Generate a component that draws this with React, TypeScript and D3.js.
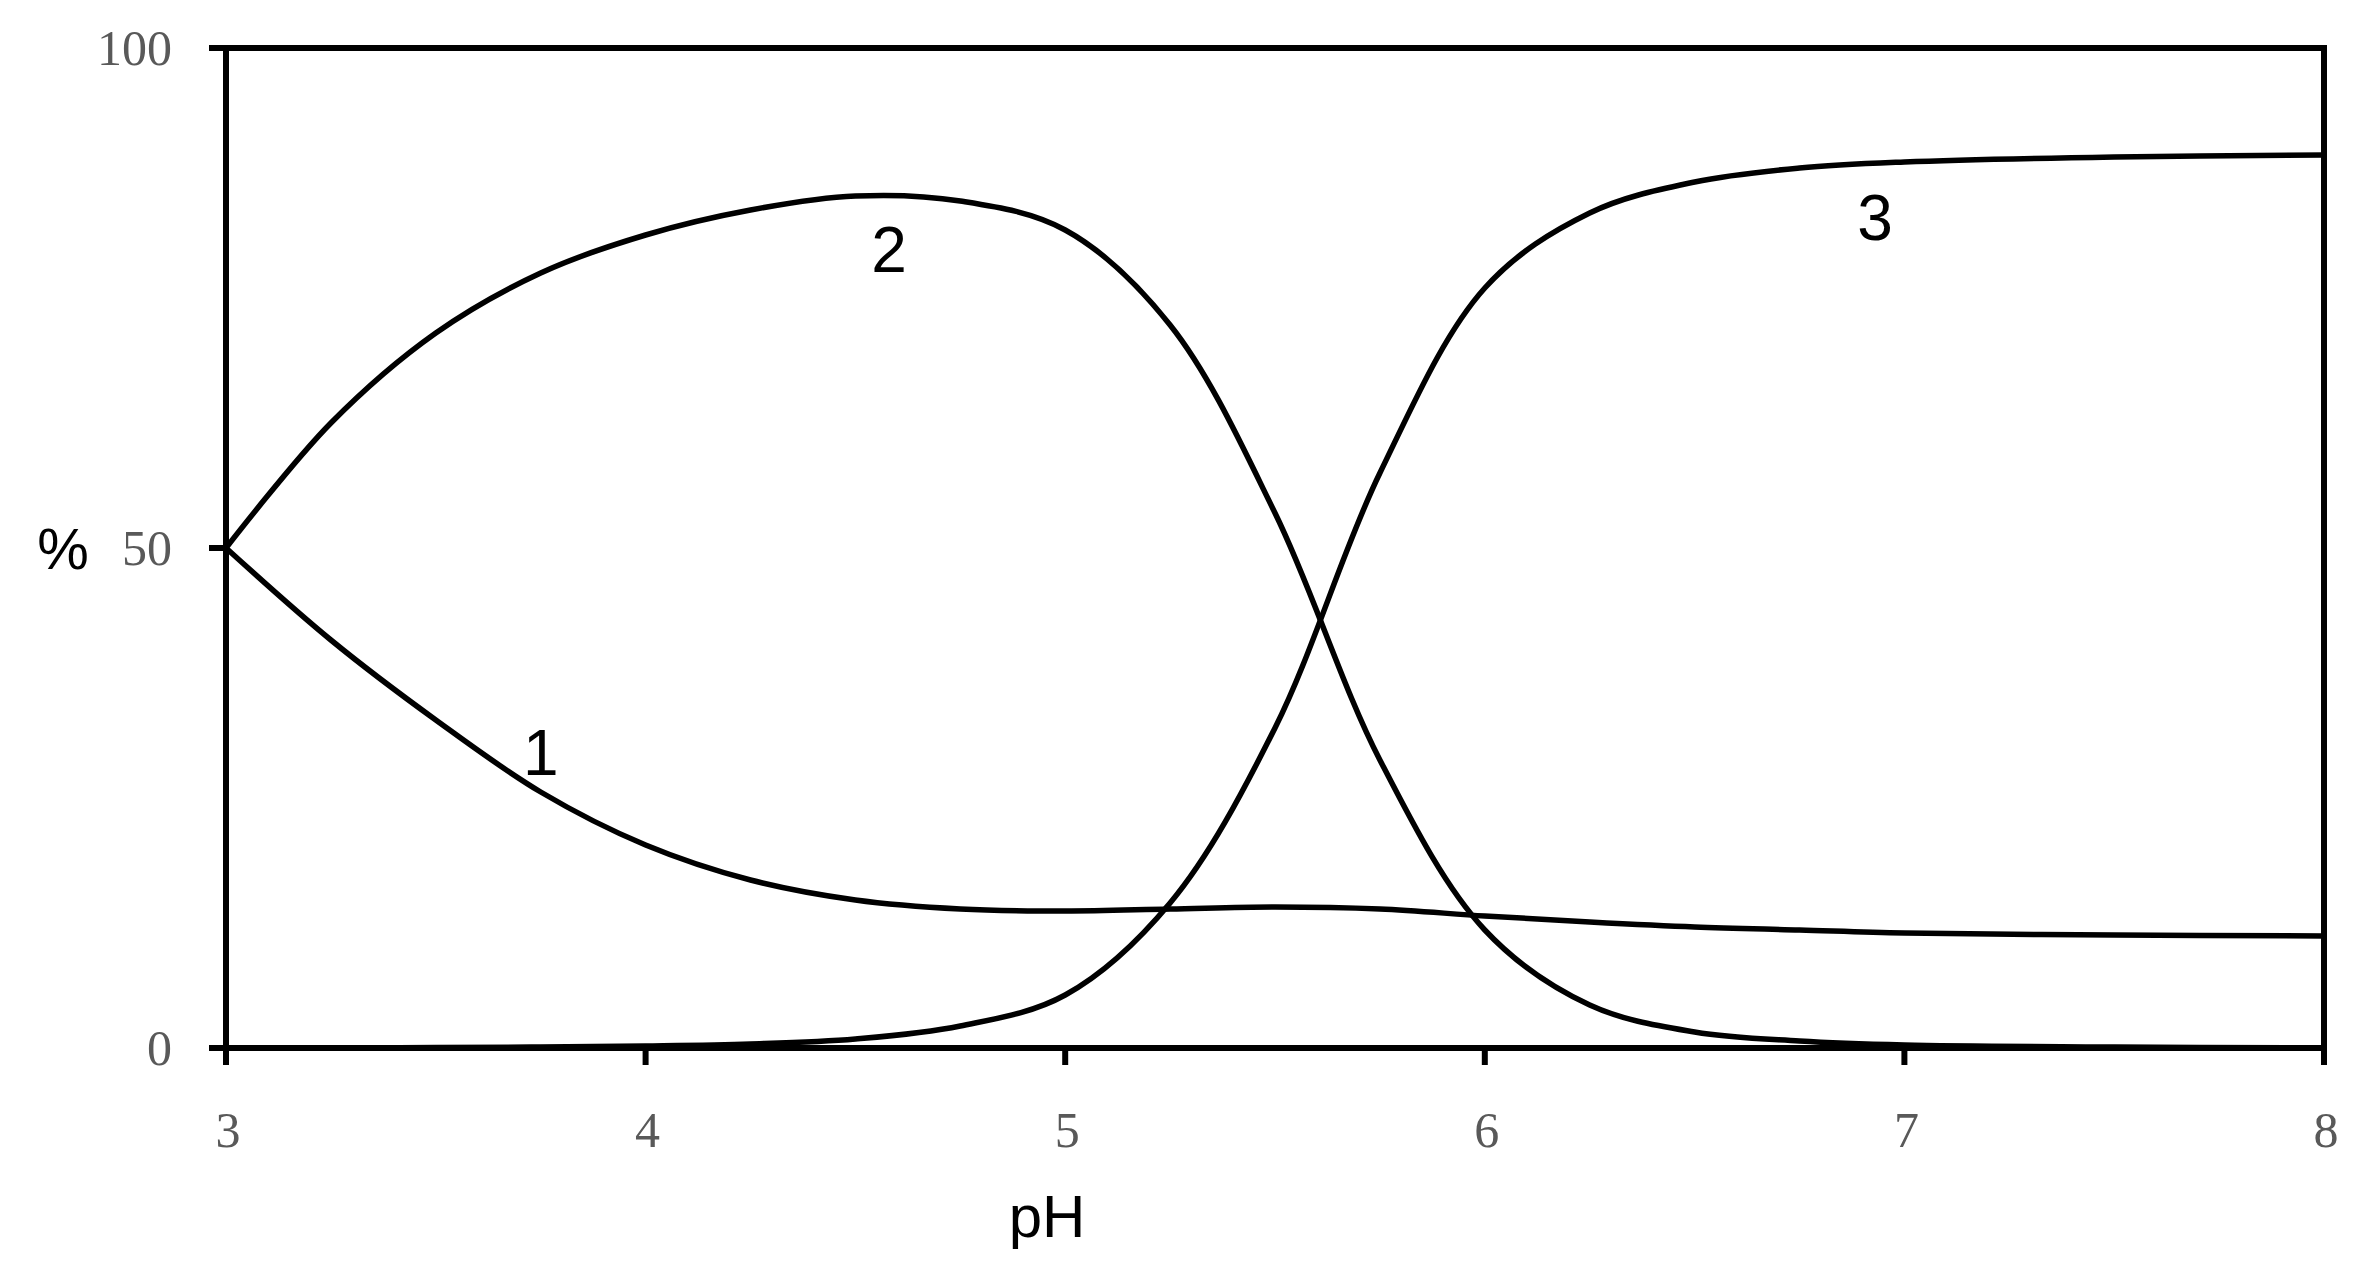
import React, { useEffect, useRef } from "react";
import * as d3 from "d3";

// pH grid shared by all three species curves
const phValues = [3, 3.25, 3.5, 3.75, 4, 4.25, 4.5, 4.75, 5, 5.25, 5.5, 5.75, 6, 6.25, 6.5, 6.75, 7, 7.5, 8];
const species1 = [50, 40.8, 32.8, 25.6, 20.3, 16.8, 14.8, 13.9, 13.7, 13.9, 14.1, 13.9, 13.2, 12.6, 12.1, 11.8, 11.5, 11.3, 11.2];
const species2 = [50, 62.5, 71.5, 77.5, 81.3, 83.8, 85.2, 84.7, 81.8, 72.3, 53.5, 28.8, 11.8, 4.3, 1.6, 0.7, 0.3, 0.1, 0];
const species3 = [0, 0, 0.05, 0.1, 0.2, 0.4, 0.9, 2.2, 5.3, 14.5, 32, 57.5, 76, 83.5, 86.6, 88, 88.6, 89.1, 89.3];
const seriesList = [species1, species2, species3];

const xTicks = [3, 4, 5, 6, 7, 8];
const yTicks = [0, 50, 100];

// curve labels, placed in data units
const curveLabels = [
  { text: "1", ph: 3.75, pct: 27.3 },
  { text: "2", ph: 4.58, pct: 77.6 },
  { text: "3", ph: 6.93, pct: 80.8 },
];

const W = 2379,
  H = 1277;
const margin = { top: 48, right: 55, bottom: 229, left: 226 };

export default function App() {
  const svgRef = useRef<SVGSVGElement>(null);

  useEffect(() => {
    document.body.style.margin = "0";
    const svg = d3.select(svgRef.current);
    svg.selectAll("*").remove();

    const x = d3.scaleLinear().domain([3, 8]).range([margin.left, W - margin.right]);
    const y = d3.scaleLinear().domain([0, 100]).range([H - margin.bottom, margin.top]);

    const tickLen = 17;
    const serif = "'Palatino Linotype', 'Book Antiqua', 'Liberation Serif', serif";
    const sans = "'Liberation Sans', Arial, sans-serif";

    // curves
    const line = d3
      .line<number>()
      .x((_, i) => x(phValues[i]))
      .y((d) => y(Math.max(0, d)))
      .curve(d3.curveCatmullRom.alpha(0.5));

    svg
      .append("g")
      .selectAll("path")
      .data(seriesList)
      .enter()
      .append("path")
      .attr("d", (d) => line(d))
      .attr("fill", "none")
      .attr("stroke", "black")
      .attr("stroke-width", 5.5);

    // frame
    svg
      .append("rect")
      .attr("x", x(3))
      .attr("y", y(100))
      .attr("width", x(8) - x(3))
      .attr("height", y(0) - y(100))
      .attr("fill", "none")
      .attr("stroke", "black")
      .attr("stroke-width", 6);

    // y ticks + labels
    const yg = svg.append("g");
    yg.selectAll("line")
      .data(yTicks)
      .enter()
      .append("line")
      .attr("x1", x(3) - tickLen)
      .attr("x2", x(3))
      .attr("y1", (d) => y(d))
      .attr("y2", (d) => y(d))
      .attr("stroke", "black")
      .attr("stroke-width", 6);
    yg.selectAll("text")
      .data(yTicks)
      .enter()
      .append("text")
      .attr("x", x(3) - 54)
      .attr("y", (d) => y(d) + 17)
      .attr("text-anchor", "end")
      .attr("font-family", serif)
      .attr("font-size", 50)
      .attr("fill", "#595959")
      .text((d) => d);

    // x ticks + labels
    const xg = svg.append("g");
    xg.selectAll("line")
      .data(xTicks)
      .enter()
      .append("line")
      .attr("x1", (d) => x(d))
      .attr("x2", (d) => x(d))
      .attr("y1", y(0))
      .attr("y2", y(0) + tickLen)
      .attr("stroke", "black")
      .attr("stroke-width", 6);
    xg.selectAll("text")
      .data(xTicks)
      .enter()
      .append("text")
      .attr("x", (d) => x(d) + 2)
      .attr("y", y(0) + 99)
      .attr("text-anchor", "middle")
      .attr("font-family", serif)
      .attr("font-size", 50)
      .attr("fill", "#595959")
      .text((d) => d);

    // axis titles
    svg
      .append("text")
      .attr("x", 1047)
      .attr("y", 1237)
      .attr("text-anchor", "middle")
      .attr("font-family", sans)
      .attr("font-size", 60)
      .attr("fill", "black")
      .text("pH");

    svg
      .append("text")
      .attr("x", 63)
      .attr("y", 569)
      .attr("text-anchor", "middle")
      .attr("font-family", sans)
      .attr("font-size", 58)
      .attr("fill", "black")
      .text("%");

    // curve numbers
    svg
      .append("g")
      .selectAll("text")
      .data(curveLabels)
      .enter()
      .append("text")
      .attr("x", (d) => x(d.ph))
      .attr("y", (d) => y(d.pct))
      .attr("text-anchor", "middle")
      .attr("font-family", sans)
      .attr("font-size", 64)
      .attr("fill", "black")
      .text((d) => d.text);
  }, []);

  return (
    <svg ref={svgRef} width={W} height={H} style={{ display: "block", background: "white" }} />
  );
}
